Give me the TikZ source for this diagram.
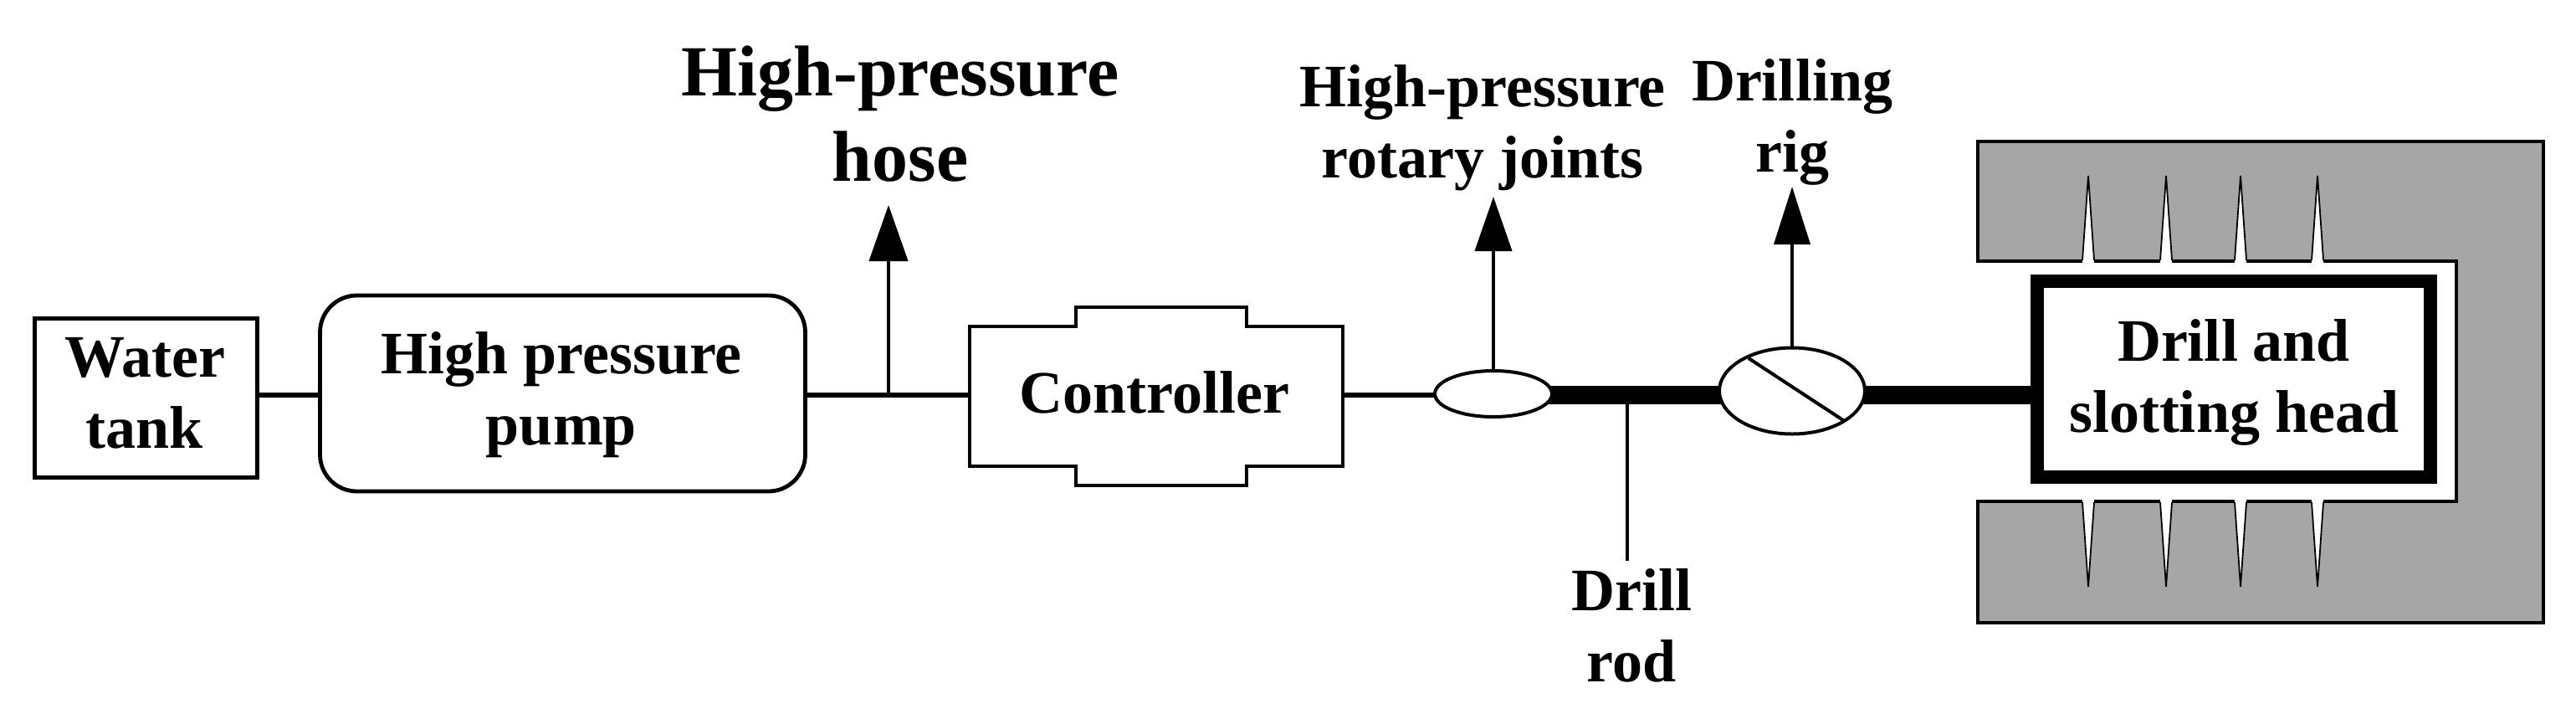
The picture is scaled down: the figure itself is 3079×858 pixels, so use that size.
\documentclass[tikz,border=0pt]{standalone}
\usepackage{fontspec}
\setmainfont{Liberation Serif}
\usetikzlibrary{shapes.geometric,arrows.meta,backgrounds}
\tikzset{
  x=0.25pt,y=-0.25pt,
  wire/.style={draw=black,line width=1.4pt},
  thin wire/.style={draw=black,line width=1pt},
  rod/.style={draw=black,line width=5.5pt},
  box/.style={draw=black,line width=1.2pt,fill=white},
  lbl/.style={font=\bfseries\fontsize{18pt}{21.25pt}\selectfont,align=center,inner sep=0pt,text=black},
  biglbl/.style={font=\bfseries\fontsize{21.5pt}{25.5pt}\selectfont,align=center,inner sep=0pt,text=black},
  spike/.style={draw=black,line width=0.45pt,line join=miter},
  block/.style={draw=black,line width=1.1pt,fill=black!35},
  valve/.style={draw=black,line width=1pt,fill=white,ellipse,inner sep=0pt}
}
\begin{document}
\begin{tikzpicture}
\useasboundingbox (0,0) rectangle (3079,858);
% gray holder
\draw[block] (2364,169) -- (3040,169) -- (3040,744) -- (2364,744) -- (2364,599) -- (2936,599) -- (2936,312) -- (2364,312) -- cycle;
% spikes
\foreach \sx in {2496,2589,2678,2770}{
  \fill[white] (\sx-7,314) -- (\sx,210) -- (\sx+7,314) -- cycle;
  \draw[spike] (\sx-7,311) -- (\sx,210) -- (\sx+7,311);
  \fill[white] (\sx-7,597) -- (\sx,701) -- (\sx+7,597) -- cycle;
  \draw[spike] (\sx-7,600) -- (\sx,701) -- (\sx+7,600);
}
% boxes
\node[box,minimum width=66.5pt,minimum height=47.5pt] (tank) at (174.5,475.5) {};
\node[lbl] (tankt) at (173,470) {Water\\tank};
\node[box,rounded corners=11pt,minimum width=145pt,minimum height=58.5pt] (pump) at (672.5,470) {};
\node[lbl] (pumpt) at (671,471.5) {High pressure\\pump};
\draw[box] (1159,390) -- (1286,390) -- (1286,367) -- (1490,367) -- (1490,390) -- (1605,390) -- (1605,557) -- (1490,557) -- (1490,580) -- (1286,580) -- (1286,557) -- (1159,557) -- cycle;
\node[lbl] (ctrl) at (1380,468.5) {Controller};
\coordinate (ctrlW) at (1159,472);
\coordinate (ctrlE) at (1605,472);
\node[valve,minimum width=35pt,minimum height=13.75pt] (joint) at (1785,470.5) {};
\node[valve,minimum width=43.5pt,minimum height=25.75pt] (rig) at (2142,467) {};
\coordinate (slashA) at (2090,428);
\coordinate (slashB) at (2203,502);
\draw[thin wire] (slashA) -- (slashB);
\node[draw=black,line width=4pt,fill=white,minimum width=117.5pt,minimum height=58.5pt] (drill) at (2670,453) {};
\node[lbl] (drillt) at (2670,457) {Drill and\\slotting head};
% connectors
\coordinate (pumpE) at (963,472);
\coordinate (hoseJ) at (1062,472);
\coordinate (rodJ) at (1945,472);
\begin{scope}[on background layer]
\draw[wire] (tank.east |- ctrlW) -- (pump.west |- ctrlW);
\draw[wire] (pumpE) -- (ctrlW);
\draw[wire] (ctrlE) -- (joint.center |- ctrlE);
\draw[rod] (joint.center |- rodJ) -- (rig.center |- rodJ);
\draw[rod] (rig.center |- rodJ) -- (drill.center |- rodJ);
\end{scope}
% labels and arrows
\coordinate (hoseT) at (1062,245);
\draw[thin wire,-{Triangle[length=16.75pt,width=11.5pt]}] (hoseJ) -- (hoseT);
\node[biglbl] (hose) at (1076,136) {High-pressure\\hose};
\coordinate (jointT) at (1785,235);
\draw[thin wire,-{Triangle[length=16.25pt,width=11pt]}] (joint.north) -- (jointT);
\node[lbl] (jl) at (1772,152.5) {High-pressure\\rotary joints};
\coordinate (rigT) at (2142,223);
\draw[thin wire,-{Triangle[length=17.25pt,width=10.75pt]}] (rig.north) -- (rigT);
\node[lbl] (rl) at (2142,145.5) {Drilling\\rig};
\coordinate (rodE) at (1945,670);
\draw[thin wire] (rodJ) -- (rodE);
\node[lbl] (rodl) at (1950,747) {Drill\\rod};
\end{tikzpicture}
\end{document}
